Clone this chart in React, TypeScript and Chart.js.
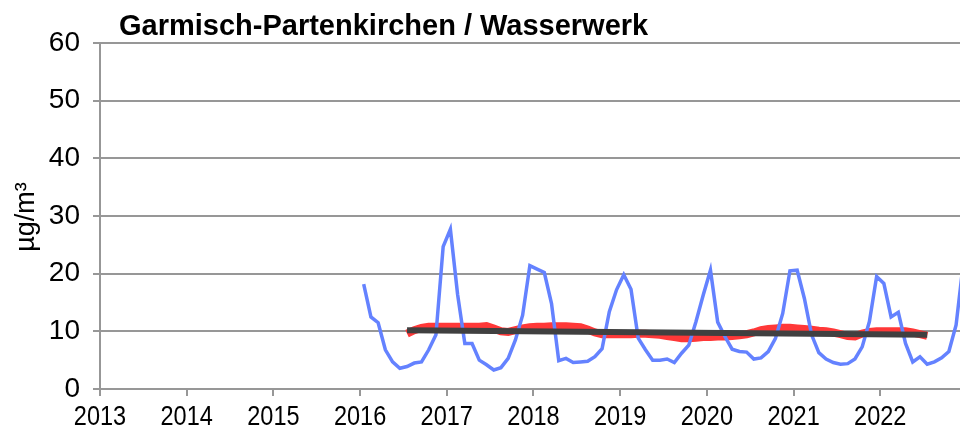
import React, { useEffect, useRef } from "react";
import { Chart, registerables } from "chart.js";

Chart.register(...registerables);

const chartTitle = "Garmisch-Partenkirchen / Wasserwerk";
const yAxisLabel = "µg/m³";
const yearTicks = [2013, 2014, 2015, 2016, 2017, 2018, 2019, 2020, 2021, 2022];
const xMin = 2013;
const xMax = 2022.92;

// Monthly values, Jan 2016 – Dec 2022
const blueStart = "2016-01";
const blueValues = [
  18.2, 12.5, 11.5, 6.8, 4.7, 3.6, 3.9, 4.5, 4.7, 6.8, 9.4, 24.7,
  27.7, 16.4, 7.9, 7.9, 5.0, 4.2, 3.3, 3.7, 5.3, 8.5, 12.8, 21.4,
  20.8, 20.2, 14.8, 4.9, 5.3, 4.6, 4.7, 4.8, 5.6, 7.0, 13.4, 17.2,
  19.8, 17.3, 8.8, 6.8, 5.0, 5.0, 5.2, 4.6, 6.2, 7.6, 11.7, 16.3,
  20.6, 11.6, 9.1, 6.9, 6.5, 6.4, 5.2, 5.4, 6.5, 8.8, 13.1, 20.5,
  20.6, 15.7, 9.4, 6.3, 5.2, 4.6, 4.3, 4.4, 5.2, 7.3, 11.7, 19.5,
  18.3, 12.5, 13.3, 7.9, 4.7, 5.6, 4.3, 4.7, 5.4, 6.5, 11.1, 21.9,
];

// 12-month running mean, Jul 2016 – Jul 2022
const redStart = "2016-07";
const redValues = [
  9.6, 10.2, 10.6, 10.8, 10.8, 10.8,
  10.8, 10.8, 10.8, 10.8, 10.8, 10.9, 10.5, 10.0, 9.9, 10.2, 10.5, 10.7,
  10.8, 10.8, 10.9, 10.9, 10.9, 10.8, 10.7, 10.3, 9.8, 9.5, 9.5, 9.5,
  9.5, 9.5, 9.6, 9.6, 9.5, 9.4, 9.2, 9.0, 8.8, 8.8, 8.9, 9.0,
  9.0, 9.1, 9.1, 9.2, 9.3, 9.5, 9.8, 10.2, 10.4, 10.5, 10.6, 10.6,
  10.5, 10.4, 10.3, 10.1, 10.0, 9.8, 9.5, 9.2, 9.1, 9.6, 9.9, 10.0,
  10.0, 10.0, 10.0, 10.0, 9.8, 9.5, 9.2,
];

// Linear trend
const trendMonths = ["2016-07", "2022-07"];
const trendValues = [10.2, 9.4];

function monthToX(ym: string, add = 0): number {
  const [y, m] = ym.split("-").map(Number);
  return y + (m - 1 + add + 0.5) / 12;
}

function series(start: string, values: number[]) {
  return values.map((v, i) => ({ x: monthToX(start, i), y: v }));
}

const FONT = "'Liberation Sans', Arial, sans-serif";
const GRID = "#979797";

const textPlugin = {
  id: "texts",
  afterDraw(chart: any) {
    const ctx = chart.ctx;
    const xs = chart.scales.x;
    ctx.save();
    ctx.fillStyle = "#000";
    // title
    ctx.font = `bold 29px ${FONT}`;
    ctx.textAlign = "left";
    ctx.textBaseline = "alphabetic";
    ctx.fillText(chartTitle, 119, 35);
    // x tick labels (slightly condensed)
    ctx.font = `28px ${FONT}`;
    ctx.textAlign = "center";
    ctx.textBaseline = "middle";
    for (const yr of yearTicks) {
      const px = xs.getPixelForValue(yr);
      ctx.save();
      ctx.translate(px, 417);
      ctx.scale(0.84, 1);
      ctx.fillText(String(yr), 0, 0);
      ctx.restore();
    }
    // y axis title
    ctx.translate(34, 217);
    ctx.rotate(-Math.PI / 2);
    ctx.font = `27px ${FONT}`;
    ctx.textAlign = "center";
    ctx.textBaseline = "alphabetic";
    ctx.fillText(yAxisLabel, 0, 0);
    ctx.restore();
  },
};

export default function App() {
  const ref = useRef<HTMLCanvasElement | null>(null);
  useEffect(() => {
    document.body.style.margin = "0";
    if (!ref.current) return;
    const chart = new Chart(ref.current, {
      type: "line",
      data: {
        datasets: [
          {
            label: "Trend",
            data: trendMonths.map((m, i) => ({ x: monthToX(m), y: trendValues[i] })),
            borderColor: "#404040",
            borderWidth: 6,
            pointRadius: 0,
            order: 0,
          },
          {
            label: "Monatsmittel",
            data: series(blueStart, blueValues),
            borderColor: "#6482ff",
            borderWidth: 3.5,
            pointRadius: 0,
            order: 1,
          },
          {
            label: "Gleitendes Mittel",
            data: series(redStart, redValues),
            borderColor: "#ff3838",
            borderWidth: 8,
            pointRadius: 0,
            order: 2,
          },
        ],
      },
      options: {
        animation: false,
        responsive: true,
        maintainAspectRatio: false,
        layout: { padding: { top: 43, right: 0, left: 0, bottom: 0 } },
        plugins: {
          legend: { display: false },
          tooltip: { enabled: false },
          title: { display: false },
        },
        scales: {
          x: {
            type: "linear",
            min: xMin,
            max: xMax,
            afterBuildTicks: (s: any) => {
              s.ticks = yearTicks.map((v) => ({ value: v }));
            },
            afterFit: (s: any) => {
              s.height = 48;
            },
            ticks: {
              display: false,
            },
            grid: {
              drawOnChartArea: false,
              drawTicks: true,
              tickLength: 7,
              color: GRID,
              lineWidth: 2,
            },
            border: { color: GRID, width: 2 },
          },
          y: {
            min: 0,
            max: 60,
            afterFit: (s: any) => {
              s.width = 100;
            },
            ticks: {
              stepSize: 10,
              padding: 13,
              color: "#000",
              font: { family: FONT, size: 28 },
            },
            grid: {
              color: GRID,
              lineWidth: 2,
              tickLength: 7,
            },
            border: { color: GRID, width: 2 },
          },
        },
      },
      plugins: [textPlugin],
    });
    return () => chart.destroy();
  }, []);
  return (
    <div style={{ width: 960, height: 437, position: "relative" }}>
      <canvas ref={ref} />
    </div>
  );
}
